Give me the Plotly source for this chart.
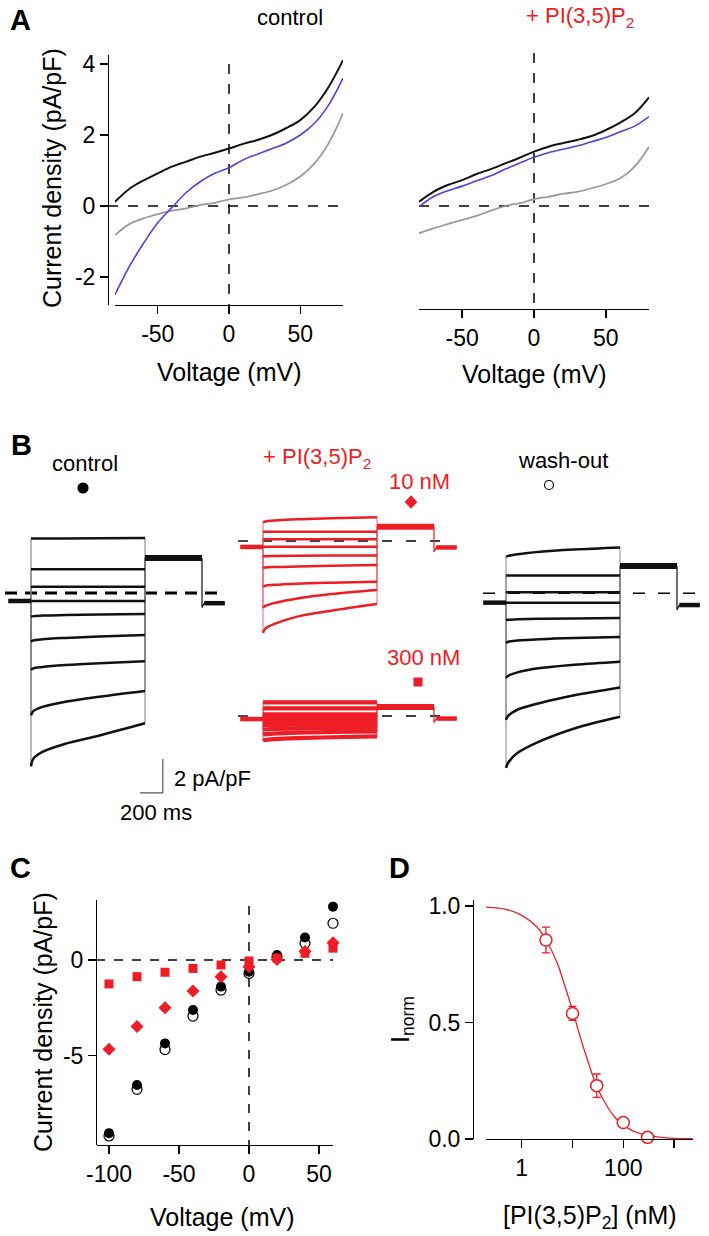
import plotly.graph_objects as go

W, H = 709, 1236
RED = "#ee1c25"
BLUE = "#4646e0"
GRAY = "#9a9a9a"
FONT = "Liberation Sans, Arial, sans-serif"

# ---------------- Panel A : ramp I-V (pA/pF vs mV) ----------------
a_voltage = [-80, -70, -60, -50, -40, -30, -20, -10, 0, 10, 20, 30, 40, 50, 60, 70, 80]
a_ctrl_black = [0.12, 0.48, 0.72, 0.92, 1.11, 1.25, 1.39, 1.50, 1.62, 1.75, 1.86, 2.00, 2.19, 2.42, 2.80, 3.36, 4.11]
a_ctrl_blue = [-2.50, -1.71, -1.05, -0.47, -0.04, 0.38, 0.69, 0.92, 1.08, 1.30, 1.46, 1.61, 1.77, 2.00, 2.33, 2.85, 3.60]
a_ctrl_gray = [-0.82, -0.51, -0.35, -0.23, -0.13, -0.07, 0.03, 0.09, 0.19, 0.24, 0.33, 0.43, 0.59, 0.83, 1.20, 1.77, 2.61]
a_pip_black = [0.12, 0.40, 0.59, 0.73, 0.90, 1.04, 1.20, 1.36, 1.53, 1.67, 1.77, 1.86, 1.97, 2.14, 2.35, 2.61, 3.06]
a_pip_blue = [-0.02, 0.26, 0.43, 0.56, 0.71, 0.85, 1.04, 1.21, 1.37, 1.50, 1.60, 1.69, 1.81, 1.93, 2.09, 2.25, 2.52]
a_pip_gray = [-0.77, -0.63, -0.51, -0.39, -0.28, -0.13, 0.00, 0.08, 0.19, 0.26, 0.34, 0.40, 0.50, 0.62, 0.78, 1.11, 1.67]
a_xticks = [-50, 0, 50]
a_yticks = [-2, 0, 2, 4]

# ---------------- Panel B : current traces (pA/pF vs ms) ----------------
b_step_time = [0, 20, 100, 300, 600, 1000]
b_pre_time = [-200, 0]
b_tail_time = [1000, 1500]
b_post_time = [1500, 1520, 1700]

b_ctrl_sweeps = [
    [3.20, 3.20, 3.20, 3.21, 3.22, 3.24],
    [1.39, 1.39, 1.39, 1.39, 1.39, 1.39],
    [0.37, 0.37, 0.37, 0.37, 0.37, 0.37],
    [-0.47, -0.47, -0.47, -0.47, -0.47, -0.47],
    [-1.39, -1.36, -1.33, -1.30, -1.27, -1.24],
    [-2.86, -2.79, -2.72, -2.64, -2.56, -2.47],
    [-4.53, -4.43, -4.35, -4.24, -4.13, -4.02],
    [-7.20, -6.95, -6.70, -6.40, -6.10, -5.76],
    [-10.20, -9.75, -9.35, -8.87, -8.38, -7.66],
]
b_ctrl_base, b_ctrl_tail, b_ctrl_post = -0.47, 2.06, [-0.85, -0.60, -0.60]

b_10nM_sweeps = [
    [1.10, 1.15, 1.20, 1.28, 1.34, 1.40],
    [0.55, 0.55, 0.55, 0.55, 0.55, 0.55],
    [0.10, 0.10, 0.10, 0.10, 0.10, 0.10],
    [-0.34, -0.34, -0.34, -0.34, -0.34, -0.34],
    [-0.90, -0.89, -0.88, -0.87, -0.86, -0.85],
    [-1.59, -1.56, -1.53, -1.50, -1.46, -1.41],
    [-2.69, -2.63, -2.58, -2.51, -2.45, -2.39],
    [-3.94, -3.82, -3.65, -3.38, -3.12, -2.88],
    [-5.41, -5.15, -4.88, -4.45, -4.10, -3.71],
]
b_10nM_base, b_10nM_tail, b_10nM_post = -0.35, 0.84, [-0.65, -0.38, -0.38]

b_300nM_sweeps = [
    [0.80, 0.80, 0.80, 0.80, 0.80, 0.80],
    [0.45, 0.45, 0.45, 0.45, 0.45, 0.45],
    [0.10, 0.10, 0.10, 0.10, 0.10, 0.10],
    [-0.12, -0.12, -0.12, -0.12, -0.12, -0.12],
    [-0.33, -0.33, -0.33, -0.33, -0.33, -0.33],
    [-0.55, -0.54, -0.53, -0.51, -0.50, -0.48],
    [-0.80, -0.78, -0.76, -0.73, -0.70, -0.68],
    [-1.10, -1.07, -1.03, -0.98, -0.94, -0.90],
    [-1.45, -1.41, -1.36, -1.30, -1.25, -1.20],
]
b_300nM_base, b_300nM_tail, b_300nM_post = -0.18, 0.53, [-0.40, -0.15, -0.15]

b_wash_sweeps = [
    [2.15, 2.20, 2.30, 2.45, 2.58, 2.70],
    [1.04, 1.04, 1.04, 1.04, 1.04, 1.04],
    [0.06, 0.06, 0.06, 0.06, 0.06, 0.06],
    [-0.55, -0.55, -0.55, -0.55, -0.55, -0.55],
    [-1.57, -1.55, -1.53, -1.50, -1.48, -1.45],
    [-2.92, -2.85, -2.78, -2.70, -2.63, -2.57],
    [-4.99, -4.85, -4.65, -4.40, -4.20, -4.02],
    [-7.45, -7.20, -6.85, -6.45, -6.00, -5.54],
    [-10.27, -9.95, -9.40, -8.70, -7.95, -7.26],
]
b_wash_base, b_wash_tail, b_wash_post = -0.55, 1.61, [-0.98, -0.69, -0.69]

b_scale_ms = 200
b_scale_pApF = 2

# ---------------- Panel C : I-V summary ----------------
c_voltage = [-100, -80, -60, -40, -20, 0, 20, 40, 60]
c_control = [-9.05, -6.53, -4.36, -2.61, -1.39, -0.61, 0.26, 1.18, 2.79]
c_washout = [-9.20, -6.76, -4.68, -2.93, -1.57, -0.70, 0.17, 0.87, 1.92]
c_10nM = [-4.67, -3.48, -2.49, -1.62, -0.87, -0.35, 0.03, 0.45, 0.90]
c_300nM = [-1.25, -0.87, -0.64, -0.44, -0.26, -0.05, 0.10, 0.35, 0.62]
c_xticks = [-100, -50, 0, 50]
c_yticks = [-5, 0]

# ---------------- Panel D : dose response ----------------
d_conc = [3, 10, 30, 100, 300]
d_inorm = [0.854, 0.539, 0.229, 0.071, 0.007]
d_err = [0.055, 0.030, 0.050, 0.020, 0.005]
d_fit_conc = [0.2, 0.5, 1, 2, 3, 5, 7, 10, 15, 20, 30, 50, 70, 100, 150, 200, 300, 500, 1000, 2300]
d_fit_inorm = [0.995, 0.985, 0.96, 0.91, 0.855, 0.755, 0.66, 0.553, 0.42, 0.336, 0.225, 0.134,
               0.09, 0.06, 0.036, 0.025, 0.015, 0.008, 0.003, 0.001]
d_xticks = [1, 100]
d_xminor = [10, 1000]
d_yticks = [0, 0.5, 1.0]
d_yticktext = ["0.0", "0.5", "1.0"]


# ---------------- helpers (pixel layout) ----------------
def dom_x(a, b):
    return [a / W, b / W]


def dom_y(top, bot):
    return [1 - bot / H, 1 - top / H]


def rng_x(p0, p1, pref, vref, s):
    return [vref + (p0 - pref) / s, vref + (p1 - pref) / s]


def rng_y(top, bot, pref, vref, s):
    return [vref - (bot - pref) / s, vref - (top - pref) / s]


def px(x):
    return x / W


def py(y):
    return 1 - y / H


fig = go.Figure()


def line(x, y, xa, ya, color, width, shape="linear", dash=None):
    fig.add_trace(go.Scatter(x=x, y=y, xaxis=xa, yaxis=ya, mode="lines",
                             line=dict(color=color, width=width, shape=shape, dash=dash),
                             showlegend=False, hoverinfo="skip"))


# ---- Panel A traces
for vals, col, wd in [(a_ctrl_gray, GRAY, 1.8), (a_ctrl_blue, BLUE, 1.6), (a_ctrl_black, "#111111", 2.0)]:
    line(a_voltage, vals, "x", "y", col, wd, "spline")
for vals, col, wd in [(a_pip_gray, GRAY, 1.8), (a_pip_blue, BLUE, 1.6), (a_pip_black, "#111111", 2.0)]:
    line(a_voltage, vals, "x2", "y2", col, wd, "spline")


# ---- Panel B traces
def sweep_panel(sweeps, base, tail, post, xa, ya, color, conn_color, sweep_width=2.5):
    cx, cy, sx, sy = [], [], [], []
    for s in sweeps:
        cx += [b_pre_time[1], b_step_time[0], None, b_step_time[-1], b_tail_time[0], None]
        cy += [base, s[0], None, s[-1], tail, None]
        sx += b_step_time + [None]
        sy += s + [None]
    line(cx, cy, xa, ya, conn_color, 1)
    line(b_pre_time, [base, base], xa, ya, color, 4.5)
    line(b_tail_time, [tail, tail], xa, ya, color, 6)
    line([b_tail_time[1]] + b_post_time, [tail] + post, xa, ya, color, 1.2)
    line(b_post_time[1:], post[1:], xa, ya, color, 4.5)
    line(sx, sy, xa, ya, color, sweep_width, "spline")


sweep_panel(b_ctrl_sweeps, b_ctrl_base, b_ctrl_tail, b_ctrl_post, "x3", "y3", "#111111", "#777777")
sweep_panel(b_10nM_sweeps, b_10nM_base, b_10nM_tail, b_10nM_post, "x4", "y4", RED, "#f06a6f")
sweep_panel(b_300nM_sweeps, b_300nM_base, b_300nM_tail, b_300nM_post, "x5", "y5", RED, "#f06a6f", 4.2)
sweep_panel(b_wash_sweeps, b_wash_base, b_wash_tail, b_wash_post, "x6", "y6", "#111111", "#888888")

# scale bar (control axes)
sb_t0, sb_v0 = 956, -11.76
line([sb_t0, sb_t0 + b_scale_ms, sb_t0 + b_scale_ms],
     [sb_v0, sb_v0, sb_v0 + b_scale_pApF], "x3", "y3", "#555555", 1.2)

# ---- Panel C markers
fig.add_trace(go.Scatter(x=c_voltage, y=c_washout, xaxis="x7", yaxis="y7", mode="markers",
                         marker=dict(symbol="circle", size=10, color="white",
                                     line=dict(color="black", width=1.2)),
                         showlegend=False, hoverinfo="skip", cliponaxis=False))
fig.add_trace(go.Scatter(x=c_voltage, y=c_control, xaxis="x7", yaxis="y7", mode="markers",
                         marker=dict(symbol="circle", size=10, color="black", line=dict(width=0)),
                         showlegend=False, hoverinfo="skip", cliponaxis=False))
fig.add_trace(go.Scatter(x=c_voltage, y=c_300nM, xaxis="x7", yaxis="y7", mode="markers",
                         marker=dict(symbol="square", size=9, color=RED, line=dict(width=0)),
                         showlegend=False, hoverinfo="skip", cliponaxis=False))
fig.add_trace(go.Scatter(x=c_voltage, y=c_10nM, xaxis="x7", yaxis="y7", mode="markers",
                         marker=dict(symbol="diamond", size=10, color=RED, line=dict(width=0)),
                         showlegend=False, hoverinfo="skip", cliponaxis=False))

# ---- Panel D
line(d_fit_conc, d_fit_inorm, "x8", "y8", RED, 1.3, "spline")
fig.add_trace(go.Scatter(x=d_conc, y=d_inorm, xaxis="x8", yaxis="y8", mode="markers",
                         error_y=dict(type="data", array=d_err, color=RED, thickness=1.3, width=4),
                         marker=dict(symbol="circle", size=12, color="white",
                                     line=dict(color=RED, width=1.5)),
                         showlegend=False, hoverinfo="skip", cliponaxis=False))

# ---------------- axes ----------------
ax = dict(showgrid=False, zeroline=False, showline=True, linecolor="black", linewidth=1.3,
          ticks="outside", ticklen=8, tickwidth=1.3, tickcolor="black", automargin=False,
          tickfont=dict(family=FONT, size=23, color="black"))
hid = dict(visible=False, showgrid=False, zeroline=False, automargin=False)


def ticktxt(v):
    return [("-" if t < 0 else "") + (str(abs(t))) for t in v]


layout_axes = dict(
    xaxis=dict(ax, domain=dom_x(115, 343), range=[-80, 80], anchor="y",
               tickvals=a_xticks, ticktext=ticktxt(a_xticks)),
    yaxis=dict(ax, domain=dom_y(55, 305), range=rng_y(55, 305, 206, 0, 35.5), anchor="free",
               position=px(108), tickvals=a_yticks, ticktext=ticktxt(a_yticks)),
    xaxis2=dict(ax, domain=dom_x(419, 649), range=[-80, 80], anchor="y2",
                tickvals=a_xticks, ticktext=ticktxt(a_xticks)),
    yaxis2=dict(hid, domain=dom_y(53, 309), range=rng_y(53, 309, 206, 0, 35.5), anchor="x2"),
    xaxis3=dict(hid, domain=dom_x(0, 240), range=rng_x(0, 240, 31, 0, 0.114), anchor="y3"),
    yaxis3=dict(hid, domain=dom_y(440, 810), range=rng_y(440, 810, 593, 0, 17), anchor="x3"),
    xaxis4=dict(hid, domain=dom_x(230, 470), range=rng_x(230, 470, 263, 0, 0.114), anchor="y4"),
    yaxis4=dict(hid, domain=dom_y(440, 670), range=rng_y(440, 670, 541, 0, 17), anchor="x4"),
    xaxis5=dict(hid, domain=dom_x(230, 470), range=rng_x(230, 470, 263, 0, 0.114), anchor="y5"),
    yaxis5=dict(hid, domain=dom_y(670, 770), range=rng_y(670, 770, 716, 0, 17), anchor="x5"),
    xaxis6=dict(hid, domain=dom_x(470, 709), range=rng_x(470, 709, 506, 0, 0.114), anchor="y6"),
    yaxis6=dict(hid, domain=dom_y(440, 810), range=rng_y(440, 810, 593.3, 0, 17), anchor="x6"),
    xaxis7=dict(ax, domain=dom_x(97, 333), range=rng_x(97, 333, 249, 0, 1.4), anchor="y7",
                tickvals=c_xticks, ticktext=ticktxt(c_xticks)),
    yaxis7=dict(ax, domain=dom_y(900, 1145), range=rng_y(900, 1145, 960, 0, 19.13), anchor="free",
                position=px(96), tickvals=c_yticks, ticktext=ticktxt(c_yticks)),
    xaxis8=dict(ax, type="log", domain=dom_x(486, 693), range=rng_x(486, 693, 521.7, 0, 50.8),
                anchor="y8", tickvals=d_xticks, ticktext=[str(v) for v in d_xticks],
                minor=dict(tickmode="array", tickvals=d_xminor, ticks="outside", ticklen=8,
                           tickwidth=1.3, tickcolor="black", showgrid=False)),
    yaxis8=dict(ax, domain=dom_y(900, 1139), range=rng_y(900, 1139, 1139, 0, 233), anchor="free",
                position=px(473), tickvals=d_yticks, ticktext=d_yticktext),
)

# ---------------- shapes ----------------
shapes = []


def dline(x0, y0, x1, y1, xref, yref, width=1.5, dash="10px,10px", color="black"):
    shapes.append(dict(type="line", x0=x0, y0=y0, x1=x1, y1=y1, xref=xref, yref=yref,
                       layer="below", line=dict(color=color, width=width, dash=dash)))


# panel A zero lines
dline(px(108), 0, px(343), 0, "paper", "y")
dline(0, py(64), 0, py(305), "x", "paper")
dline(px(419), 0, px(649), 0, "paper", "y2")
dline(0, py(53), 0, py(309), "x2", "paper")
# panel B zero lines
dline(-228, 0, 1660, 0, "x3", "y3", width=2.8, dash="12px,8px")
dline(-219, 0, 1660, 0, "x4", "y4", width=1.4, dash="10px,14px")
dline(-219, 0, 1660, 0, "x5", "y5", width=1.4, dash="10px,14px")
dline(-202, 0, 1690, 0, "x6", "y6", width=1.4, dash="12px,13px")
# panel C zero lines
dline(px(96), 0, px(333), 0, "paper", "y7", dash="9px,9px")
dline(0, py(906), 0, py(1145), "x7", "paper", dash="9px,9px")


# panel B condition symbols
def circ(cx, cy, d, fill, outline):
    shapes.append(dict(type="circle", xref="paper", yref="paper",
                       x0=px(cx - d / 2), x1=px(cx + d / 2), y0=py(cy + d / 2), y1=py(cy - d / 2),
                       fillcolor=fill, line=dict(color=outline, width=1.2)))


circ(83, 488, 10, "black", "black")
circ(549, 485, 9, "white", "black")
shapes.append(dict(type="rect", xref="paper", yref="paper", x0=px(413.5), x1=px(422.5),
                   y0=py(686.5), y1=py(677.5), fillcolor=RED, line=dict(width=0)))
dx, dy, cxd, cyd = 6.3, 6.8, 411, 502
shapes.append(dict(type="path", xref="paper", yref="paper",
                   path=f"M {px(cxd - dx)} {py(cyd)} L {px(cxd)} {py(cyd - dy)} L {px(cxd + dx)} {py(cyd)} "
                        f"L {px(cxd)} {py(cyd + dy)} Z",
                   fillcolor=RED, line=dict(width=0)))

# ---------------- annotations ----------------
ann = []


def text(s, x, y, size=22, color="black", bold=False, angle=0, xanchor="center"):
    ann.append(dict(text=f"<b>{s}</b>" if bold else s, x=px(x), y=py(y), xref="paper", yref="paper",
                    showarrow=False, xanchor=xanchor, yanchor="middle", textangle=angle,
                    font=dict(family=FONT, size=size, color=color)))


PIP = "+ PI(3,5)P<sub>2</sub>"
text("A", 20, 20, 29, bold=True)
text("control", 290, 17)
text(PIP, 580, 17, color=RED)
text("Current density (pA/pF)", 52, 178, 25, angle=-90)
text("Voltage (mV)", 229, 372, 25)
text("Voltage (mV)", 534, 374, 25)

text("B", 21, 445, 29, bold=True)
text("control", 85, 463)
text(PIP, 317, 458, color=RED)
text("10 nM", 419, 482, color=RED)
text("300 nM", 423, 657, color=RED)
text("wash-out", 563, 460)
text("2 pA/pF", 172, 778, xanchor="left")
text("200 ms", 156, 812)

text("C", 20, 868, 29, bold=True)
text("Current density (pA/pF)", 43, 1022, 25, angle=-90)
text("Voltage (mV)", 222, 1217, 25)

text("D", 399, 868, 29, bold=True)
text("I<sub>norm</sub>", 402, 1020, 25, angle=-90)
text("[PI(3,5)P<sub>2</sub>] (nM)", 590, 1217, 25)

fig.update_layout(
    template="none",
    width=W, height=H, margin=dict(l=0, r=0, t=0, b=0, pad=0, autoexpand=False),
    paper_bgcolor="white", plot_bgcolor="white",
    font=dict(family=FONT, color="black"),
    shapes=shapes, annotations=ann, showlegend=False, hovermode=False,
    **layout_axes,
)

fig.write_html("out.html", config={"displayModeBar": False, "staticPlot": True},
               post_script="document.body.style.margin='0';document.body.style.padding='0';"
                           "document.documentElement.style.overflow='hidden';")
